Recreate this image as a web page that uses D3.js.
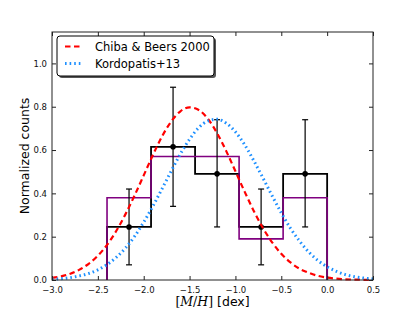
<!DOCTYPE html>
<html>
<head>
<meta charset="utf-8">
<script src="https://cdn.jsdelivr.net/npm/d3@7"></script>
<style>
  body { margin: 0; background: #fff; }
  text { font-family: "DejaVu Sans", sans-serif; }
</style>
</head>
<body>
<div id="chart"></div>
<script>
// bin edges of both histograms
const binEdges = [-2.4, -1.92, -1.44, -0.96, -0.48, 0.0];
const blackCounts = [0.245, 0.615, 0.49, 0.245, 0.49];
const purpleCounts = [0.38, 0.57, 0.57, 0.19, 0.38];
// error bars on black histogram
const errX = [-2.16, -1.68, -1.2, -0.72, -0.24];
const errLow = [0.07, 0.34, 0.245, 0.07, 0.245];
const errHigh = [0.42, 0.89, 0.74, 0.42, 0.74];

// curves
const curveX = [-3.0, -2.9, -2.8, -2.7, -2.6, -2.5, -2.4, -2.3, -2.2, -2.1, -2.0, -1.9, -1.8, -1.7, -1.6, -1.5, -1.4, -1.3, -1.2, -1.1,
  -1.0, -0.9, -0.8, -0.7, -0.6, -0.5, -0.4, -0.3, -0.2, -0.1, 0.0, 0.1, 0.2, 0.3, 0.4, 0.5];
const chibaY = [0.010, 0.017, 0.029, 0.048, 0.075, 0.112, 0.162, 0.226, 0.303, 0.390, 0.483, 0.577, 0.663, 0.732, 0.779, 0.797, 0.785, 0.744, 0.678, 0.595,
  0.502, 0.408, 0.319, 0.240, 0.174, 0.121, 0.081, 0.052, 0.033, 0.019, 0.011, 0.006, 0.003, 0.002, 0.001, 0.0004];
const kordoY = [0.004, 0.006, 0.011, 0.019, 0.030, 0.047, 0.071, 0.104, 0.147, 0.201, 0.267, 0.341, 0.421, 0.503, 0.582, 0.650, 0.703, 0.734, 0.742, 0.724,
  0.684, 0.625, 0.551, 0.471, 0.389, 0.310, 0.239, 0.179, 0.129, 0.090, 0.061, 0.040, 0.025, 0.015, 0.009, 0.005];

const xTicks = [-3.0, -2.5, -2.0, -1.5, -1.0, -0.5, 0.0, 0.5];
const yTicks = [0.0, 0.2, 0.4, 0.6, 0.8, 1.0];
const legendLabels = ["Chiba & Beers 2000", "Kordopatis+13"];

(function() {
    const width = 415;
    const height = 312;
    const margin = { left: 52, right: 42, top: 32, bottom: 32 };

    const svg = d3.select("#chart")
        .append("svg")
        .attr("width", width)
        .attr("height", height);

    const x = d3.scaleLinear().domain([-3.0, 0.5]).range([margin.left, width - margin.right]);
    const y = d3.scaleLinear().domain([0, 1.145]).range([height - margin.bottom, margin.top]);

    const fmt = d => d3.format(".1f")(d).replace("-", "\u2212");

    // step outline of a histogram
    function stepPath(counts) {
        const pts = [[binEdges[0], 0]];
        counts.forEach((c, i) => {
            pts.push([binEdges[i], c]);
            pts.push([binEdges[i + 1], c]);
        });
        pts.push([binEdges[binEdges.length - 1], 0]);
        return d3.line().x(d => x(d[0])).y(d => y(d[1]))(pts);
    }

    svg.append("path")
        .attr("d", stepPath(blackCounts))
        .attr("fill", "none")
        .attr("stroke", "black")
        .attr("stroke-width", 1.8);

    svg.append("path")
        .attr("d", stepPath(purpleCounts))
        .attr("fill", "none")
        .attr("stroke", "#800080")
        .attr("stroke-width", 1.6);

    // error bars
    errX.forEach((v, i) => {
        const g = svg.append("g").attr("stroke", "black").attr("stroke-width", 1.2);
        g.append("line").attr("x1", x(v)).attr("x2", x(v)).attr("y1", y(errLow[i])).attr("y2", y(errHigh[i]));
        g.append("line").attr("x1", x(v) - 3).attr("x2", x(v) + 3).attr("y1", y(errLow[i])).attr("y2", y(errLow[i]));
        g.append("line").attr("x1", x(v) - 3).attr("x2", x(v) + 3).attr("y1", y(errHigh[i])).attr("y2", y(errHigh[i]));
        svg.append("circle").attr("cx", x(v)).attr("cy", y(blackCounts[i])).attr("r", 2.8).attr("fill", "black");
    });

    const line = d3.line().curve(d3.curveMonotoneX).x((d, i) => x(curveX[i])).y(d => y(d));

    svg.append("path")
        .attr("d", line(chibaY))
        .attr("fill", "none")
        .attr("stroke", "#ff0000")
        .attr("stroke-width", 2.2)
        .attr("stroke-dasharray", "5.5,3.5");

    svg.append("path")
        .attr("d", line(kordoY))
        .attr("fill", "none")
        .attr("stroke", "#1e90ff")
        .attr("stroke-width", 3)
        .attr("stroke-dasharray", "1.6,3");

    // frame
    svg.append("rect")
        .attr("x", margin.left)
        .attr("y", margin.top)
        .attr("width", width - margin.left - margin.right)
        .attr("height", height - margin.top - margin.bottom)
        .attr("fill", "none")
        .attr("stroke", "#222")
        .attr("stroke-width", 1);

    // axes with inward ticks
    const axB = svg.append("g").attr("transform", `translate(0,${height - margin.bottom})`)
        .call(d3.axisBottom(x).tickValues(xTicks).tickSizeInner(-4).tickSizeOuter(0).tickPadding(5).tickFormat(fmt));
    const axT = svg.append("g").attr("transform", `translate(0,${margin.top})`)
        .call(d3.axisTop(x).tickValues(xTicks).tickSizeInner(-4).tickSizeOuter(0).tickFormat(""));
    const axL = svg.append("g").attr("transform", `translate(${margin.left},0)`)
        .call(d3.axisLeft(y).tickValues(yTicks).tickSizeInner(-4).tickSizeOuter(0).tickPadding(5).tickFormat(fmt));
    const axR = svg.append("g").attr("transform", `translate(${width - margin.right},0)`)
        .call(d3.axisRight(y).tickValues(yTicks).tickSizeInner(-4).tickSizeOuter(0).tickFormat(""));
    [axB, axT, axL, axR].forEach(a => {
        a.select(".domain").remove();
        a.selectAll("text").attr("font-size", 8.5).attr("font-family", "DejaVu Sans").attr("fill", "#111");
        a.selectAll("line").attr("stroke", "#222");
    });
    axB.selectAll(".tick text").attr("dy", "0.95em");

    // axis labels
    const xl = svg.append("text")
        .attr("x", (margin.left + width - margin.right) / 2)
        .attr("y", 306)
        .attr("text-anchor", "middle")
        .attr("font-size", 12.5);
    xl.append("tspan").attr("font-family", "DejaVu Serif").text("[");
    xl.append("tspan").attr("font-family", "DejaVu Serif").attr("font-style", "italic").text("M");
    xl.append("tspan").attr("font-family", "DejaVu Serif").text("/");
    xl.append("tspan").attr("font-family", "DejaVu Serif").attr("font-style", "italic").text("H");
    xl.append("tspan").attr("font-family", "DejaVu Serif").text("]");
    xl.append("tspan").text(" [dex]");

    svg.append("text")
        .attr("transform", `translate(29,${(margin.top + height - margin.bottom) / 2}) rotate(-90)`)
        .attr("text-anchor", "middle")
        .attr("font-size", 12.5)
        .text("Normalized counts");

    // legend
    const lg = svg.append("g").attr("transform", "translate(57,36)");
    lg.append("rect").attr("x", 2).attr("y", 2).attr("width", 157).attr("height", 40).attr("rx", 3)
        .attr("fill", "#555");
    lg.append("rect").attr("x", 0).attr("y", 0).attr("width", 157).attr("height", 40).attr("rx", 3)
        .attr("fill", "white").attr("stroke", "black").attr("stroke-width", 1);
    const styles = [
        { color: "#ff0000", w: 2.2, dash: "5.5,3.5" },
        { color: "#1e90ff", w: 3, dash: "1.6,3" }
    ];
    legendLabels.forEach((lab, i) => {
        const ly = 10.5 + i * 17;
        lg.append("line").attr("x1", 8).attr("x2", 24).attr("y1", ly).attr("y2", ly)
            .attr("stroke", styles[i].color).attr("stroke-width", styles[i].w)
            .attr("stroke-dasharray", styles[i].dash);
        lg.append("text").attr("x", 38).attr("y", ly + 4).attr("font-size", 11.5).text(lab);
    });
})();
</script>
</body>
</html>
